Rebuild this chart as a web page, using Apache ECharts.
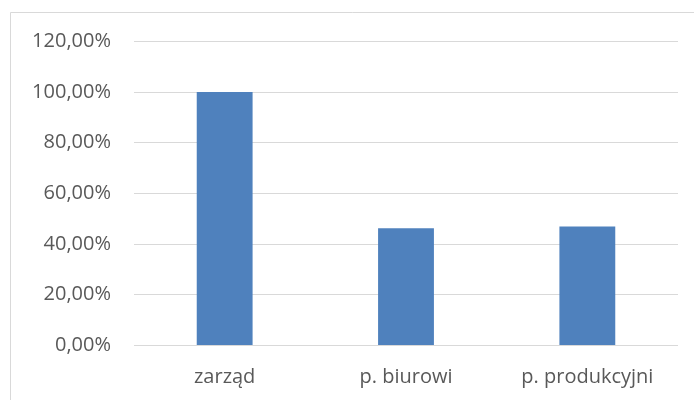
<!DOCTYPE html>
<html>
<head>
<meta charset="utf-8">
<script src="https://cdn.jsdelivr.net/npm/echarts@6/dist/echarts.min.js"></script>
<style>
  html, body { margin: 0; padding: 0; background: #fff; }
  #main { width: 694px; height: 400px; }
</style>
</head>
<body>
<div id="main"></div>
<script>
const categories = ['zarząd', 'p. biurowi', 'p. produkcyjni'];
const values = [100, 46.2, 46.9];
const yTicks = [0, 20, 40, 60, 80, 100, 120];

var myChart = echarts.init(document.getElementById('main'));
var option = {
  backgroundColor: '#ffffff',
  animation: false,
  graphic: [
    {
      type: 'rect',
      shape: { x: 10.5, y: 12.5, width: 700, height: 400 },
      style: { fill: 'none', stroke: '#d9d9d9', lineWidth: 1 }
    }
  ],
  grid: { left: 134, right: 16, top: 41.5, bottom: 55, containLabel: false },
  xAxis: {
    type: 'category',
    data: categories,
    axisLine: { show: false },
    axisTick: { show: false },
    axisLabel: { color: '#595959', fontSize: 20, fontFamily: '"Open Sans", sans-serif', margin: 22 }
  },
  yAxis: {
    type: 'value',
    min: yTicks[0],
    max: yTicks[yTicks.length - 1],
    interval: 20,
    axisLine: { show: false },
    axisTick: { show: false },
    splitLine: { lineStyle: { color: '#d9d9d9', width: 1 } },
    axisLabel: {
      color: '#595959',
      fontSize: 20,
      fontFamily: '"Open Sans", sans-serif',
      margin: 23,
      formatter: function (v) { return v.toFixed(2).replace('.', ',') + '%'; }
    }
  },
  series: [
    {
      type: 'bar',
      data: values,
      barWidth: '30.8%',
      itemStyle: { color: '#4f81bd' }
    }
  ]
};
myChart.setOption(option);
</script>
</body>
</html>
